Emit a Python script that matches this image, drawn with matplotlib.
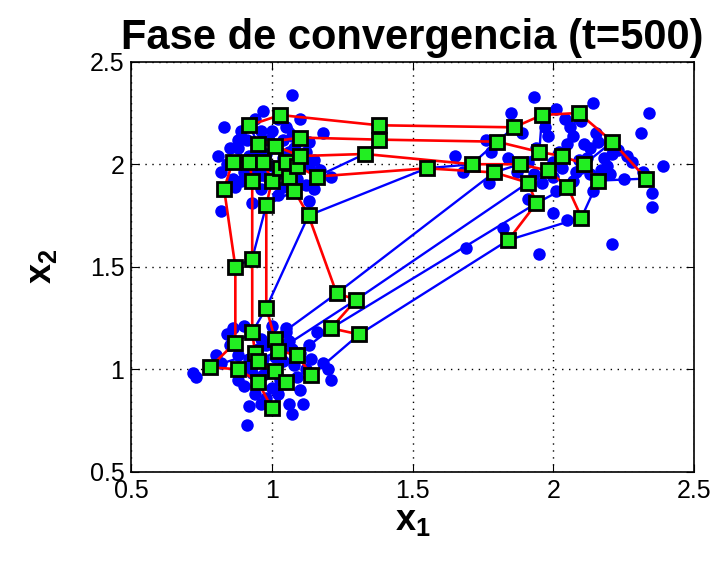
import matplotlib
matplotlib.use("Agg")
import matplotlib.pyplot as plt
import numpy as np

# datos de entrada (tres grupos)
data_x = [1.07, 0.83, 0.97, 0.81, 0.82, 0.82, 0.89, 0.96, 1.13, 1.13, 1.21, 1.12, 1.04, 0.87, 1.00,
          1.05, 0.88, 0.92, 1.03, 0.97, 1.13, 1.00, 1.18, 0.93, 1.02, 0.99, 1.06, 0.90, 0.86, 1.08,
          1.15, 0.95, 1.04, 0.91, 1.09, 0.96, 1.02, 0.85, 1.17, 0.84,
          0.94, 1.10, 0.88, 1.07, 0.98, 1.12, 0.94, 1.06, 0.89, 1.15, 0.99, 1.04,
          1.93, 2.01, 2.14, 2.34, 1.85, 2.31, 2.39, 2.35, 2.35, 2.21, 1.95, 2.00, 2.05, 1.82, 1.91,
          1.76, 1.78, 1.77, 2.11, 2.16, 2.21, 2.19, 2.28, 2.32, 2.08, 2.07, 2.01, 2.14, 2.17, 1.89,
          1.97, 1.98, 2.05, 2.00, 1.96, 1.91, 1.84, 2.12, 2.23, 2.06, 2.10, 1.65, 1.68, 1.69, 2.13,
          2.02, 2.09, 1.93, 2.15, 2.25, 2.03,
          2.07, 2.18, 2.00, 2.10, 1.94, 2.04, 2.20, 1.87, 2.13, 2.26,
          0.72, 0.91, 0.92, 0.96, 1.06, 1.11, 1.07, 1.20, 1.21, 1.16, 0.84, 0.90, 0.88, 0.90, 0.93,
          1.05, 1.06, 1.08, 1.09, 0.98, 0.97, 1.00, 1.02, 1.18, 0.91, 0.88, 0.82, 1.10, 1.03, 0.73,
          0.86, 1.05, 1.13, 0.99, 1.04, 0.95, 1.12, 0.94, 1.00, 0.80,
          0.96, 1.01, 1.07, 0.92, 1.03, 0.97, 1.14, 0.85, 1.10, 0.98]
data_y = [2.34, 2.18, 2.26, 2.04, 1.96, 1.77, 2.16, 2.16, 2.11, 1.99, 1.94, 1.90, 1.89, 1.89, 2.16,
          2.18, 2.08, 2.04, 1.96, 1.95, 1.82, 1.99, 2.15, 1.81, 2.22, 2.12, 2.06, 1.96, 1.93, 2.08,
          2.02, 2.05, 2.03, 2.12, 1.93, 1.88, 1.85, 2.08, 1.97, 2.00,
          2.22, 2.22, 2.12, 2.14, 2.05, 2.06, 1.97, 1.98, 1.92, 1.88, 1.93, 2.12,
          2.33, 2.27, 2.30, 2.25, 2.25, 2.15, 1.99, 1.86, 1.79, 1.61, 1.56, 1.76, 1.73, 1.69, 1.83,
          2.12, 2.06, 1.91, 2.10, 2.11, 2.05, 1.99, 2.01, 1.96, 1.96, 1.92, 1.87, 1.87, 1.97, 2.15,
          2.18, 2.14, 2.10, 2.01, 1.91, 2.01, 2.03, 2.03, 2.07, 2.18, 2.21, 2.04, 1.96, 1.59, 1.95,
          2.06, 2.02, 1.95, 2.15, 1.93, 1.98,
          2.14, 2.03, 1.94, 1.98, 2.08, 2.22, 1.95, 1.96, 2.08, 2.04,
          0.98, 0.73, 0.82, 0.83, 0.83, 0.83, 0.78, 1.00, 0.95, 1.18, 1.17, 1.21, 0.95, 0.92, 0.98,
          1.18, 1.14, 1.02, 0.96, 1.12, 1.05, 0.91, 0.88, 1.03, 1.01, 1.07, 1.03, 1.08, 1.10, 0.96,
          1.20, 1.20, 1.12, 1.00, 1.04, 1.10, 1.00, 0.88, 1.21, 1.07,
          1.15, 1.06, 1.10, 1.05, 0.95, 0.97, 1.05, 1.12, 0.90, 0.86]

# pesos de las neuronas (mapa 8x8)
grid_x = [[0.86, 0.83, 0.87, 0.87, 0.78, 0.88, 0.95, 1.00],
          [0.92, 0.93, 0.93, 0.93, 0.94, 0.95, 1.01, 1.05],
          [0.97, 1.00, 0.98, 0.98, 1.01, 1.02, 1.09, 1.14],
          [1.03, 1.06, 1.08, 1.13, 1.23, 1.30, 1.21, 1.31],
          [1.05, 1.09, 1.16, 1.55, 1.79, 1.91, 1.94, 1.84],
          [1.01, 1.10, 1.33, 1.71, 1.88, 1.98, 2.05, 2.10],
          [0.95, 1.10, 1.38, 1.80, 1.95, 2.03, 2.11, 2.16],
          [0.92, 1.03, 1.38, 1.86, 1.96, 2.09, 2.21, 2.33]]
grid_y = [[2.01, 1.88, 1.50, 1.13, 1.01, 1.00, 0.94, 0.81],
          [2.01, 1.92, 1.54, 1.18, 1.08, 1.04, 0.99, 0.94],
          [2.01, 1.92, 1.80, 1.30, 1.15, 1.09, 1.07, 0.97],
          [1.98, 1.94, 1.87, 1.75, 1.37, 1.34, 1.20, 1.17],
          [2.01, 1.99, 1.94, 1.98, 1.96, 1.91, 1.81, 1.63],
          [2.09, 2.04, 2.05, 2.00, 2.00, 1.97, 1.89, 1.74],
          [2.10, 2.13, 2.12, 2.11, 2.06, 2.04, 2.00, 1.92],
          [2.19, 2.24, 2.19, 2.18, 2.24, 2.25, 2.11, 1.93]]

ticks = [0.5, 1, 1.5, 2, 2.5]
tick_labels = ['0.5', '1', '1.5', '2', '2.5']

plt.rcParams['font.family'] = 'Liberation Sans'
plt.rcParams['mathtext.fontset'] = 'custom'
plt.rcParams['mathtext.rm'] = 'Liberation Sans:bold'
plt.rcParams['mathtext.it'] = 'Liberation Sans:bold'
plt.rcParams['mathtext.bf'] = 'Liberation Sans:bold'

fig = plt.figure(figsize=(7.17, 5.61), dpi=100)
ax = fig.add_axes([0.183, 0.159, 0.785, 0.731])

ax.plot(data_x, data_y, 'o', color='#0000ff', markersize=9, markeredgewidth=0, zorder=2)

gx = np.array(grid_x)
gy = np.array(grid_y)
ax.plot(gx, gy, '-', color='#0000ff', lw=1.7, zorder=3)      # columnas
ax.plot(gx.T, gy.T, '-', color='#ff0000', lw=1.9, zorder=4)  # filas
ax.plot(gx.ravel(), gy.ravel(), 's', color='#22ee22', markersize=9.5,
        markeredgecolor='black', markeredgewidth=2, zorder=5)

ax.set_xlim(0.5, 2.5)
ax.set_ylim(0.5, 2.5)
ax.set_xticks(ticks)
ax.set_xticklabels(tick_labels)
ax.set_yticks(ticks)
ax.set_yticklabels(tick_labels)
ax.tick_params(direction='in', top=True, right=True, labelsize=18, length=6, pad=5)
ax.grid(True, linestyle=(0, (1, 4)), color='black', linewidth=1)
for s in ax.spines.values():
    s.set_linewidth(1.2)

ax.set_title('Fase de convergencia (t=500)', fontsize=30, fontweight='bold', pad=9)
ax.set_xlabel(r'$x_1$', fontsize=26, labelpad=0)
ax.set_ylabel(r'$x_2$', fontsize=26, labelpad=22)

fig.savefig('out.png', dpi=100)
